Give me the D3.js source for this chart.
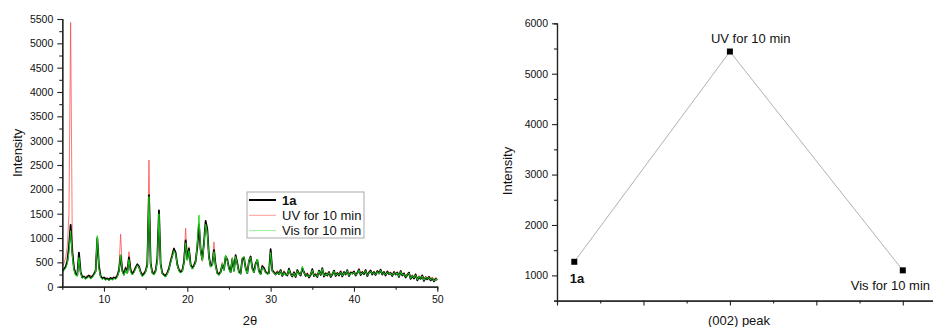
<!DOCTYPE html>
<html>
<head>
<meta charset="utf-8">
<script src="https://cdn.jsdelivr.net/npm/d3@7"></script>
<style>
  body { margin: 0; background: #fff; }
  svg { display: block; }
  text { font-family: "Liberation Sans", Arial, sans-serif; fill: #111; }
</style>
</head>
<body>
<svg id="chart" width="933" height="327"></svg>
<script>
// ---- XRD patterns: intensities sampled every 0.2° from 2θ = 5 to 50 ----
const thetaStart = 5;
const thetaStep = 0.2;

const pattern1a = [
  330, 360, 410, 520, 820,   1270, 700, 380, 260, 240,
  700, 300, 190, 210, 170,   200, 230, 180, 210, 260,
  320, 1000, 420, 220, 170,  190, 150, 170, 140, 180,
  150, 190, 170, 220, 330,   640, 330, 250, 380, 290,
  600, 330, 260, 310, 390,   460, 420, 300, 230, 260,
  320, 450, 1880, 480, 290,  260, 330, 560, 1570, 470,
  280, 240, 220, 280, 370,   520, 640, 780, 700, 460,
  340, 300, 330, 500, 950,   560, 780, 450, 380, 430,
  520, 820, 1280, 760, 560,  900, 1350, 1180, 620, 420,
  460, 750, 440, 280, 250,   300, 450, 350, 620, 560,
  380, 300, 560, 330, 650,   480, 300, 270, 560, 600,
  380, 280, 520, 620, 380,   300, 470, 550, 320, 260,
  420, 380, 300, 270, 280,   770, 330, 290, 250, 300,
  260, 340, 220, 300, 250,   230, 370, 260, 210, 290,
  200, 340, 270, 230, 380,   300, 220, 260, 190, 240,
  360, 220, 250, 200, 330,   240, 380, 210, 270, 230,
  300, 200, 250, 330, 220,   280, 230, 310, 210, 300,
  250, 340, 220, 290, 270,   310, 230, 280, 350, 240,
  300, 260, 340, 220, 290,   330, 250, 300, 240, 320,
  270, 350, 250, 300, 230,   310, 260, 280, 220, 300,
  250, 290, 200, 320, 230,   270, 190, 240, 290, 160,
  220, 170, 250, 130, 200,   160, 230, 120, 190, 150,
  200, 130, 170, 110, 160,   140
];

const patternUV = [
  400, 480, 600, 820, 1500,  5430, 900, 420, 280, 250,
  620, 280, 220, 190, 200,   230, 190, 240, 200, 280,
  360, 950, 380, 200, 190,   160, 200, 150, 180, 160,
  200, 160, 210, 260, 380,   1080, 380, 300, 420, 330,
  720, 380, 300, 330, 420,   440, 380, 320, 260, 300,
  350, 520, 2600, 520, 320,  300, 360, 600, 1450, 420,
  300, 260, 250, 310, 400,   560, 700, 800, 680, 420,
  380, 330, 360, 560, 1200,  600, 820, 480, 400, 470,
  560, 850, 1150, 700, 520,  880, 1300, 1100, 580, 460,
  500, 920, 480, 320, 280,   340, 500, 380, 600, 520,
  420, 340, 600, 360, 620,   520, 330, 300, 600, 560,
  420, 310, 560, 600, 420,   340, 500, 520, 350, 300,
  450, 400, 330, 300, 320,   720, 360, 320, 280, 330,
  300, 360, 250, 330, 280,   260, 340, 290, 240, 320,
  230, 360, 300, 260, 350,   320, 250, 290, 220, 270,
  330, 250, 280, 230, 310,   270, 350, 240, 300, 260,
  320, 230, 280, 310, 250,   300, 260, 330, 240, 320,
  280, 320, 250, 310, 290,   330, 260, 300, 380, 270,
  320, 280, 360, 250, 310,   350, 270, 320, 260, 340,
  290, 330, 270, 320, 250,   330, 280, 300, 250, 320,
  270, 310, 230, 340, 250,   290, 220, 270, 300, 200,
  250, 200, 270, 170, 230,   190, 250, 150, 220, 180,
  220, 160, 200, 140, 190,   170
];

const patternVis = [
  280, 330, 380, 470, 700,   1150, 650, 340, 230, 210,
  600, 270, 170, 200, 150,   180, 210, 160, 190, 240,
  300, 1050, 380, 190, 150,  170, 130, 160, 120, 160,
  140, 170, 150, 200, 310,   660, 300, 230, 350, 270,
  560, 300, 240, 290, 370,   440, 400, 280, 210, 240,
  300, 430, 1850, 450, 270,  240, 310, 520, 1500, 440,
  260, 220, 200, 260, 350,   500, 620, 740, 680, 440,
  320, 280, 310, 480, 900,   540, 740, 430, 360, 410,
  500, 880, 1470, 720, 540,  860, 1280, 1120, 600, 400,
  440, 720, 420, 260, 240,   280, 480, 330, 650, 540,
  360, 290, 590, 310, 620,   460, 280, 260, 580, 620,
  360, 270, 540, 600, 360,   290, 450, 570, 300, 250,
  400, 360, 290, 260, 270,   700, 320, 280, 240, 290,
  250, 330, 230, 290, 240,   240, 350, 250, 220, 280,
  210, 330, 260, 240, 420,   290, 230, 250, 200, 250,
  340, 230, 240, 210, 320,   250, 370, 220, 260, 240,
  290, 210, 260, 320, 230,   270, 240, 300, 220, 290,
  260, 330, 230, 280, 260,   300, 240, 270, 340, 250,
  290, 270, 330, 230, 280,   320, 260, 290, 250, 310,
  260, 340, 260, 290, 240,   300, 270, 270, 230, 290,
  260, 280, 210, 310, 240,   260, 200, 250, 280, 170,
  230, 180, 240, 140, 210,   170, 220, 130, 200, 160,
  190, 140, 180, 120, 150,   150
];

const seriesNames = ["1a", "UV for 10 min", "Vis for 10 min"];

// ---- (002) peak intensity for each sample ----
const peakSamples = ["1a", "UV for 10 min", "Vis for 10 min"];
const peakPositions = [0.2, 2, 4];
const peakIntensity = [1270, 5440, 1100];

const svg = d3.select("#chart");
const axisColor = "#222";

function styleAxis(g) {
  g.select(".domain").attr("stroke", axisColor).attr("stroke-width", 1.2);
  g.selectAll(".tick line").attr("stroke", axisColor).attr("stroke-width", 1.1);
  g.selectAll(".tick text")
    .attr("font-size", "10.5px")
    .attr("font-family", "'Liberation Sans', Arial, sans-serif")
    .attr("fill", "#111");
}

// ================= Left panel: diffraction patterns =================
const xL = d3.scaleLinear().domain([5, 50]).range([62.3, 437.3]);
const yL = d3.scaleLinear().domain([0, 5500]).range([286.7, 19]);

const left = svg.append("g");

const line = d3.line()
  .x((d, i) => xL(thetaStart + i * thetaStep))
  .y(d => yL(d));

const seriesStyles = [
  { data: patternUV, color: "#ff4040", width: 0.9, opacity: 0.8 },
  { data: pattern1a, color: "#000", width: 1.8, opacity: 1 },
  { data: patternVis, color: "#18d818", width: 1.0, opacity: 0.95 }
];
seriesStyles.forEach(s => {
  left.append("path")
    .datum(s.data)
    .attr("d", line)
    .attr("fill", "none")
    .attr("stroke", s.color)
    .attr("stroke-width", s.width)
    .attr("stroke-opacity", s.opacity)
    .attr("stroke-linejoin", "round");
});

// axes
const yLMajor = d3.range(0, 5501, 500);
const yLMinor = d3.range(250, 5500, 500);
left.append("g").attr("transform", `translate(${xL(5)},0)`)
  .call(d3.axisLeft(yL).tickValues(yLMinor).tickSize(3).tickFormat(""))
  .call(styleAxis);
left.append("g").attr("transform", `translate(${xL(5)},0)`)
  .call(d3.axisLeft(yL).tickValues(yLMajor).tickSize(5).tickSizeOuter(0).tickPadding(4).tickFormat(d3.format("d")))
  .call(styleAxis);

const xLMajor = [10, 20, 30, 40, 50];
const xLMinor = [15, 25, 35, 45];
left.append("g").attr("transform", `translate(0,${yL(0)})`)
  .call(d3.axisBottom(xL).tickValues(xLMinor).tickSize(3).tickFormat(""))
  .call(styleAxis);
left.append("g").attr("transform", `translate(0,${yL(0)})`)
  .call(d3.axisBottom(xL).tickValues(xLMajor).tickSize(5).tickSizeOuter(0).tickPadding(4).tickFormat(d3.format("d")))
  .call(styleAxis);

left.append("text")
  .attr("transform", `translate(22,${(yL(0) + yL(5500)) / 2}) rotate(-90)`)
  .attr("text-anchor", "middle")
  .attr("font-size", "13px")
  .text("Intensity");
left.append("text")
  .attr("x", 250).attr("y", 325)
  .attr("text-anchor", "middle")
  .attr("font-size", "13px")
  .text("2θ");

// legend
const legend = left.append("g").attr("transform", "translate(247,192)");
legend.append("rect")
  .attr("width", 117).attr("height", 46)
  .attr("fill", "#fff").attr("stroke", "#aaa").attr("stroke-width", 1);
const legendStyles = [
  { color: "#000", width: 2, bold: true },
  { color: "#ff9a9a", width: 1, bold: false },
  { color: "#9af09a", width: 1, bold: false }
];
seriesNames.forEach((name, i) => {
  const yy = 8 + i * 15.3;
  legend.append("line")
    .attr("x1", 2).attr("x2", 29).attr("y1", yy).attr("y2", yy)
    .attr("stroke", legendStyles[i].color)
    .attr("stroke-width", legendStyles[i].width);
  legend.append("text")
    .attr("x", 35).attr("y", yy + 4.5)
    .attr("font-size", "13px")
    .attr("font-weight", legendStyles[i].bold ? "bold" : "normal")
    .text(name);
});

// ================= Right panel: (002) peak intensity =================
const xR = d3.scaleLinear().domain([0, 4.5]).range([557, 557 + 4.5 * 86.45]);
const yR = d3.scaleLinear().domain([500, 6000]).range([300.6, 23.3]);

const right = svg.append("g");

const yRMajor = d3.range(1000, 6001, 1000);
const yRMinor = d3.range(500, 6000, 1000);
right.append("g").attr("transform", `translate(${xR(0)},0)`)
  .call(d3.axisLeft(yR).tickValues(yRMinor).tickSize(3).tickFormat(""))
  .call(styleAxis);
right.append("g").attr("transform", `translate(${xR(0)},0)`)
  .call(d3.axisLeft(yR).tickValues(yRMajor).tickSize(5).tickSizeOuter(0).tickPadding(4).tickFormat(d3.format("d")))
  .call(styleAxis);

const xRMajor = [0, 1, 2, 3, 4];
const xRMinor = [0.5, 1.5, 2.5, 3.5];
right.append("g").attr("transform", `translate(0,${yR(500)})`)
  .call(d3.axisBottom(xR).tickValues(xRMinor).tickSize(3).tickFormat(""))
  .call(styleAxis);
right.append("g").attr("transform", `translate(0,${yR(500)})`)
  .call(d3.axisBottom(xR).tickValues(xRMajor).tickSize(5).tickSizeOuter(0).tickFormat(""))
  .call(styleAxis);

const pts = peakPositions.map((p, i) => ({ x: p, y: peakIntensity[i], name: peakSamples[i] }));

right.append("path")
  .datum(pts)
  .attr("d", d3.line().x(d => xR(d.x)).y(d => yR(d.y)))
  .attr("fill", "none")
  .attr("stroke", "#a8a8a8")
  .attr("stroke-width", 0.9);

right.selectAll("rect.marker")
  .data(pts)
  .join("rect")
  .attr("class", "marker")
  .attr("x", d => xR(d.x) - 3)
  .attr("y", d => yR(d.y) - 3)
  .attr("width", 6).attr("height", 6)
  .attr("fill", "#000");

// point labels, offset from each marker
const labelOffsets = [
  { dx: -4.5, dy: 21, size: 13, bold: true },
  { dx: -19, dy: -8.5, size: 13, bold: false },
  { dx: -52, dy: 20, size: 13, bold: false }
];
right.selectAll("text.plabel")
  .data(pts)
  .join("text")
  .attr("class", "plabel")
  .attr("x", (d, i) => xR(d.x) + labelOffsets[i].dx)
  .attr("y", (d, i) => yR(d.y) + labelOffsets[i].dy)
  .attr("font-size", (d, i) => labelOffsets[i].size + "px")
  .attr("font-weight", (d, i) => labelOffsets[i].bold ? "bold" : "normal")
  .text(d => d.name);

right.append("text")
  .attr("transform", `translate(512,171) rotate(-90)`)
  .attr("text-anchor", "middle")
  .attr("font-size", "13px")
  .text("Intensity");
right.append("text")
  .attr("x", 739).attr("y", 325)
  .attr("text-anchor", "middle")
  .attr("font-size", "13px")
  .text("(002) peak");
</script>
</body>
</html>
